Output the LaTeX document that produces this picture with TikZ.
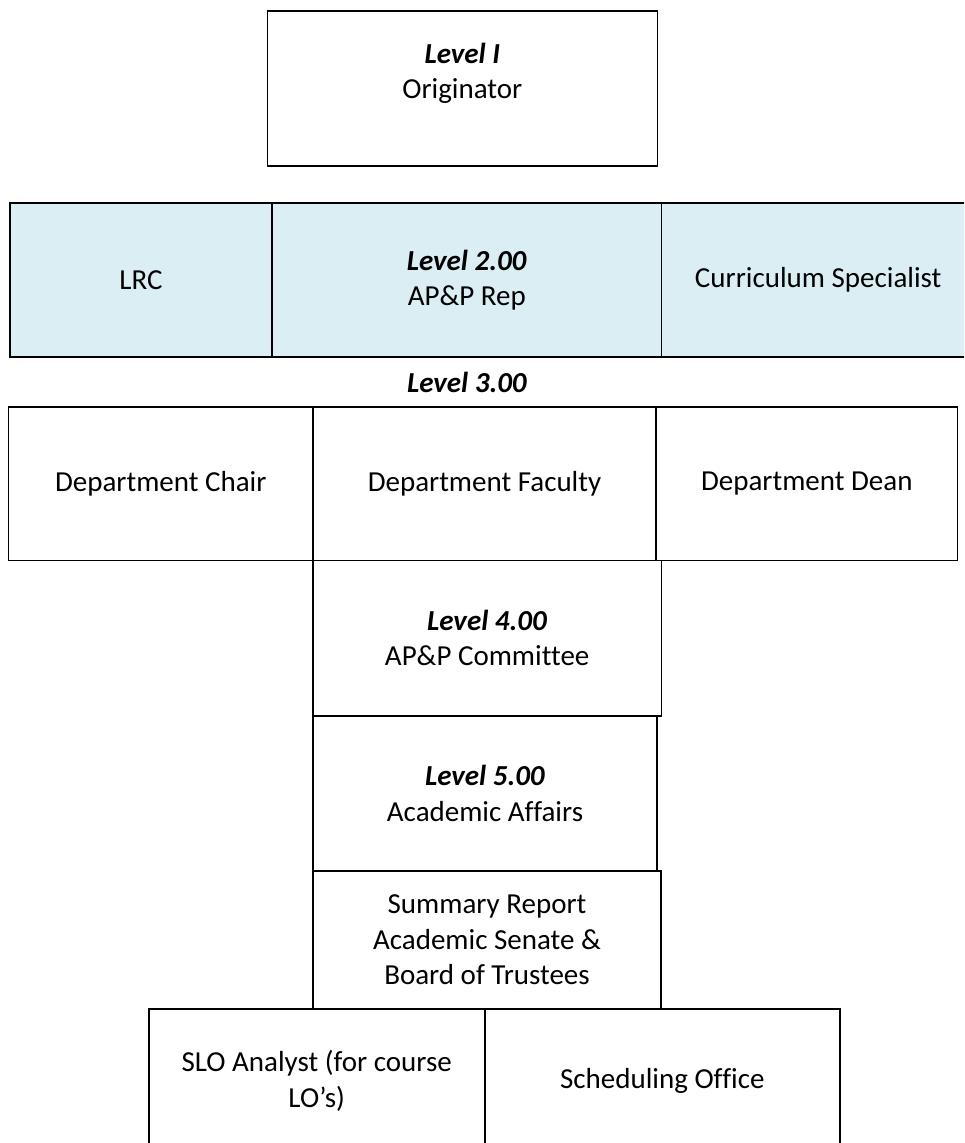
\documentclass[tikz,border=0pt]{standalone}
\usepackage{fontspec}
\setmainfont[Ligatures=NoCommon]{Carlito}
\usetikzlibrary{positioning}

\definecolor{repblue}{HTML}{DAEEF3}
\newcommand{\levelname}[1]{\textbf{\textit{#1}}}

\begin{document}
\begin{tikzpicture}[x=1pt, y=-1pt,
    font=\fontsize{29}{35.5}\selectfont,
    cell/.style={draw, line width=1.6pt, outer sep=0pt, inner sep=0pt, align=center}]
\useasboundingbox (0,0) rectangle (964,1143);
\clip (0,0) rectangle (964,1143);

% level one
\node[cell, minimum width=390pt, minimum height=155pt] (orig) at (462.3,88.3) {};
\node[below=32pt of orig.north, inner sep=0pt, align=center] (origtext) {\levelname{Level I}\\Originator};

% level two (shaded row)
\node[cell, fill=repblue, minimum width=262pt, minimum height=154pt] (lrc) at (141,280) {LRC};
\node[cell, fill=repblue, minimum width=389.5pt, minimum height=154pt, right=0pt of lrc] (aprep) {\levelname{Level 2.00}\\AP\&P Rep};
\node[cell, fill=repblue, minimum width=313.5pt, minimum height=154pt, right=0pt of aprep] (spec) {Curriculum Specialist};

% level three
\node (lvl3) at (467,382) {\levelname{Level 3.00}};
\node[cell, minimum width=304.4pt, minimum height=153.5pt] (chair) at (160.8,483.75) {Department Chair};
\node[cell, minimum width=343pt, minimum height=153.5pt, right=0pt of chair] (faculty) {Department Faculty};
\node[cell, minimum width=301.6pt, minimum height=153.5pt, right=0pt of faculty] (dean) {\strut Department Dean};

% levels four and five, then the report
\node[cell, minimum width=348.3pt, minimum height=155.2pt, anchor=north west] (appc) at (faculty.south west) {\levelname{Level 4.00}\\AP\&P Committee};
\node[cell, minimum width=344pt, minimum height=155pt, anchor=north west] (affairs) at (appc.south west) {\levelname{Level 5.00}\\Academic Affairs};
\node[cell, minimum width=348pt, minimum height=138.3pt, anchor=north west] (report) at (affairs.south west) {Summary Report\\Academic Senate \&\\Board of Trustees};

% last row
\node[cell, minimum width=336pt, minimum height=144pt, anchor=north west] (slo) at (148.7,1009) {SLO Analyst (for course\\LO’s)};
\node[cell, minimum width=355.3pt, minimum height=144pt, right=0pt of slo] (sched) {Scheduling Office};
\end{tikzpicture}
\end{document}
